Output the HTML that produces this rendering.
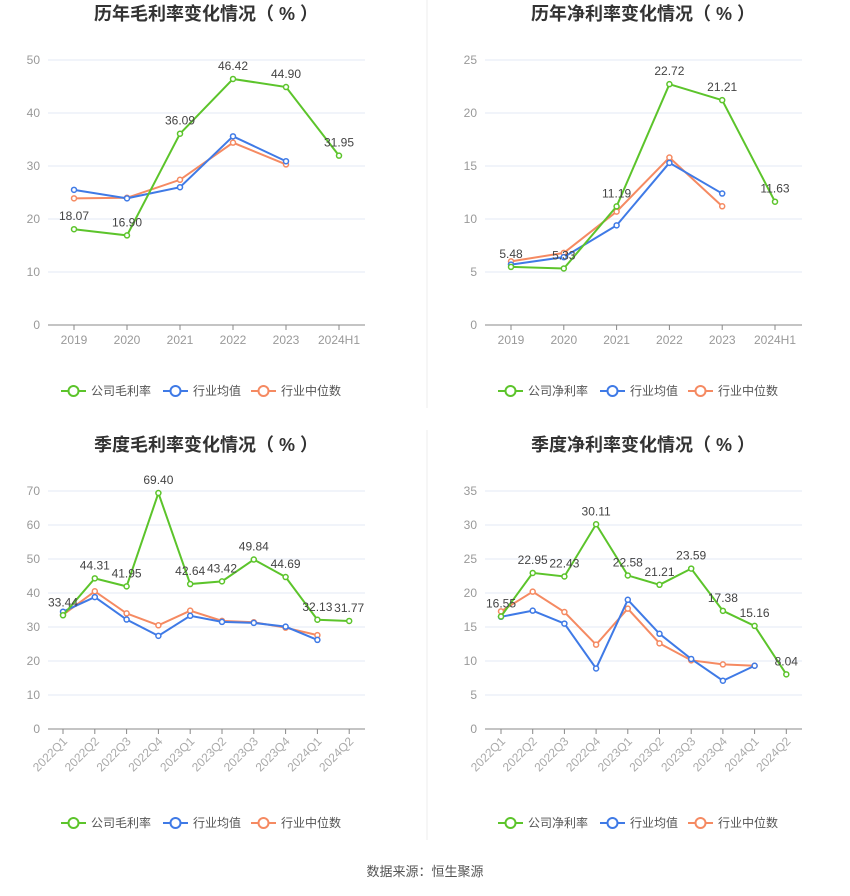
<!DOCTYPE html>
<html><head><meta charset="utf-8"><style>
body{margin:0;background:#fff;width:850px;height:891px;overflow:hidden;font-family:"Liberation Sans","Noto Sans CJK SC",sans-serif;}
svg text{font-family:"Liberation Sans","Noto Sans CJK SC",sans-serif;}
</style></head><body>
<svg id="root" width="850" height="891">
<line x1="427" y1="0" x2="427" y2="408" stroke="#eee"/>
<line x1="427" y1="430" x2="427" y2="840" stroke="#eee"/>
<text x="425" y="876" text-anchor="middle" font-size="13" fill="#555">数据来源：恒生聚源</text>
</svg>
<script>
const yearCats=["2019","2020","2021","2022","2023","2024H1"];
const qCats=["2022Q1","2022Q2","2022Q3","2022Q4","2023Q1","2023Q2","2023Q3","2023Q4","2024Q1","2024Q2"];
const grossCompany=[18.07,16.90,36.09,46.42,44.90,31.95];
const grossMean=[25.5,23.9,26.0,35.6,30.9];
const grossMedian=[23.9,24.0,27.4,34.4,30.3];
const netCompany=[5.48,5.33,11.19,22.72,21.21,11.63];
const netMean=[5.7,6.4,9.4,15.3,12.4];
const netMedian=[6.0,6.8,10.7,15.8,11.2];
const qGrossCompany=[33.44,44.31,41.95,69.40,42.64,43.42,49.84,44.69,32.13,31.77];
const qGrossMean=[34.5,38.8,32.2,27.4,33.3,31.5,31.2,30.1,26.2];
const qGrossMedian=[33.6,40.5,34.0,30.5,34.8,31.8,31.4,29.8,27.6];
const qNetCompany=[16.55,22.95,22.43,30.11,22.58,21.21,23.59,17.38,15.16,8.04];
const qNetMean=[16.5,17.4,15.5,8.9,19.0,14.0,10.3,7.1,9.3];
const qNetMedian=[17.3,20.2,17.2,12.4,17.7,12.6,10.1,9.5,9.3];
const yTicksGross=[0,10,20,30,40,50];
const yTicksNet=[0,5,10,15,20,25];
const yTicksQGross=[0,10,20,30,40,50,60,70];
const yTicksQNet=[0,5,10,15,20,25,30,35];

const NS="http://www.w3.org/2000/svg";
const root=document.getElementById('root');
const GREEN="#5cc42b",BLUE="#3f7ae6",ORANGE="#f58a62";
function mk(tag,attrs,parent){const e=document.createElementNS(NS,tag);for(const k in attrs)e.setAttribute(k,attrs[k]);(parent||root).appendChild(e);return e;}

function chart(o){
  const g=mk('g',{});
  
  
  const t=mk('text',{x:o.cx,y:o.titleY,'text-anchor':'middle','font-size':18,'font-weight':'bold',fill:'#333'},g);
  t.textContent=o.title;
  
  
  const ymax=o.ticks[o.ticks.length-1];
  const ys=v=>o.y0-(o.y0-o.yTop)*v/ymax;
  const xs=i=>o.x0+i*o.dx;
  o.ticks.forEach(v=>{
    if(v>0){const l=mk('line',{x1:o.left,x2:o.right,y1:ys(v),y2:ys(v),stroke:'#e3e8f5'},g);
      }
    const tx=mk('text',{x:o.left-8,y:ys(v)+4,'text-anchor':'end','font-size':12,fill:'#999'},g);
    tx.textContent=v;
    
    
  });
  const ax=mk('line',{x1:o.left,x2:o.right,y1:o.y0,y2:o.y0,stroke:'#888'},g);
  
  o.cats.forEach((c,i)=>{
    mk('line',{x1:xs(i),x2:xs(i),y1:o.y0,y2:o.y0+5,stroke:'#888'},g);
    let tx;
    if(o.rot){tx=mk('text',{x:xs(i)+5,y:o.y0+13,'text-anchor':'end','font-size':12,fill:'#aaa',transform:`rotate(-45 ${xs(i)+5} ${o.y0+13})`},g);}
    else tx=mk('text',{x:xs(i),y:o.y0+19,'text-anchor':'middle','font-size':12,fill:'#999'},g);
    tx.textContent=c;
    
    
  });
  const series=[[o.median,ORANGE,'industry-median-line'],[o.mean,BLUE,'industry-mean-line'],[o.comp,GREEN,'company-line']];
  series.forEach(([d,col,nm])=>{
    const p=mk('polyline',{points:d.map((v,i)=>xs(i)+','+ys(v)).join(' '),fill:'none',stroke:col,'stroke-width':2},g);
    
    d.forEach((v,i)=>{const c=mk('circle',{cx:xs(i),cy:ys(v),r:2.5,fill:'#fff',stroke:col,'stroke-width':1.5},g);
      });
  });
  o.comp.forEach((v,i)=>{const tx=mk('text',{x:xs(i),y:ys(v)-9,'text-anchor':'middle','font-size':12,fill:'#444'},g);
    tx.textContent=v.toFixed(2);});
  const lg=[[o.compLabel,GREEN],['行业均值',BLUE],['行业中位数',ORANGE]];
  let lx=o.cx-145;
  const w=[102,88,90];
  lg.forEach(([lab,col],k)=>{
    const e=mk('g',{},g);
    
    mk('line',{x1:lx,x2:lx+25,y1:o.legY,y2:o.legY,stroke:col,'stroke-width':2},e);
    mk('circle',{cx:lx+12.5,cy:o.legY,r:5,fill:'#fff',stroke:col,'stroke-width':2},e);
    const tx=mk('text',{x:lx+30,y:o.legY+4,'font-size':12,fill:'#555'},e);tx.textContent=lab;
    lx+=w[k];
  });
}
chart({name:'annual-gross-margin-chart',title:'历年毛利率变化情况（ % ）',cx:206,titleY:20,left:48,right:365,y0:325,yTop:60,x0:74,dx:53,cats:yearCats,ticks:yTicksGross,comp:grossCompany,mean:grossMean,median:grossMedian,compLabel:'公司毛利率',legY:391});
chart({name:'annual-net-margin-chart',title:'历年净利率变化情况（ % ）',cx:643,titleY:20,left:485,right:802,y0:325,yTop:60,x0:511,dx:52.8,cats:yearCats,ticks:yTicksNet,comp:netCompany,mean:netMean,median:netMedian,compLabel:'公司净利率',legY:391});
chart({name:'quarterly-gross-margin-chart',title:'季度毛利率变化情况（ % ）',cx:206,titleY:451,left:48,right:365,y0:729,yTop:491,x0:63,dx:31.8,cats:qCats,ticks:yTicksQGross,comp:qGrossCompany,mean:qGrossMean,median:qGrossMedian,compLabel:'公司毛利率',legY:823,rot:true});
chart({name:'quarterly-net-margin-chart',title:'季度净利率变化情况（ % ）',cx:643,titleY:451,left:485,right:802,y0:729,yTop:491,x0:501,dx:31.7,cats:qCats,ticks:yTicksQNet,comp:qNetCompany,mean:qNetMean,median:qNetMedian,compLabel:'公司净利率',legY:823,rot:true});
</script>
</body></html>
